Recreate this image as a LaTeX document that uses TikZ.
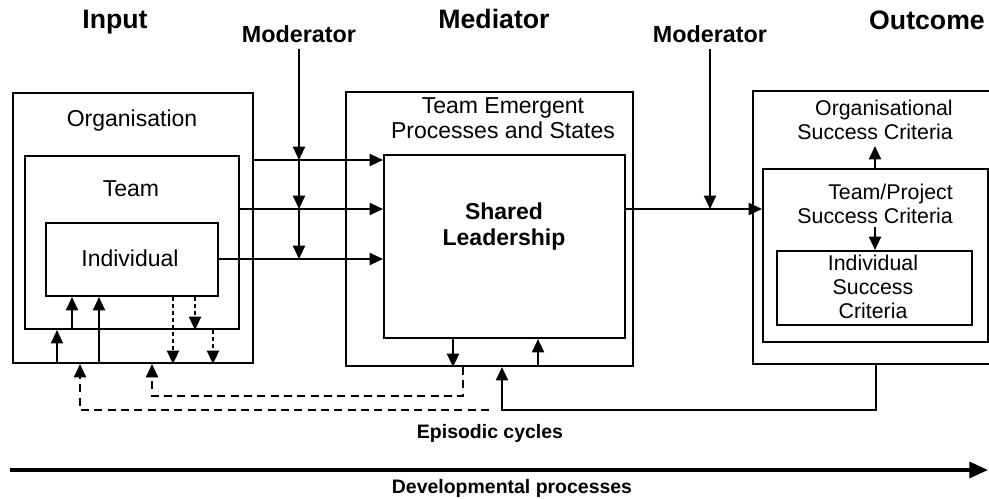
\documentclass[tikz,border=0pt]{standalone}
\usepackage{fontspec}
\setmainfont{Liberation Sans}
\usetikzlibrary{arrows.meta}
\begin{document}
\begin{tikzpicture}[x=0.75pt,y=-0.75pt,
  box/.style={draw,line width=1.5pt,inner sep=0pt,anchor=north west},
  ln/.style={line width=1.5pt},
  arr/.style={ln,-{Triangle[length=10pt,width=9pt]}},
  darr/.style={arr,dash pattern=on 3pt off 2.2pt},
  dl/.style={ln,dash pattern=on 6pt off 4pt,-{Triangle[length=10pt,width=9pt]}},
  head/.style={font=\fontsize{20}{24}\selectfont\bfseries,anchor=base,inner sep=0pt},
  modf/.style={font=\fontsize{17.5}{20}\selectfont\bfseries,anchor=base,inner sep=0pt},
  txt/.style={font=\fontsize{17.25}{18.75}\selectfont,inner sep=0pt},
  otxt/.style={font=\fontsize{16}{18}\selectfont,inner sep=0pt},
  btxt/.style={font=\fontsize{17.25}{19.5}\selectfont\bfseries,inner sep=0pt},
  stxt/.style={font=\fontsize{14.6}{17}\selectfont\bfseries,anchor=base,inner sep=0pt}
]
\useasboundingbox (0,0) rectangle (989,499);

% boxes
\node[box,minimum width=180pt,minimum height=202.5pt] (org) at (12,92) {};
\node[box,minimum width=160.5pt,minimum height=129.75pt] (team) at (24,155) {};
\node[box,minimum width=129pt,minimum height=54.75pt] (ind) at (45,222) {};
\node[box,minimum width=215.25pt,minimum height=205.5pt] (med) at (345,91) {};
\node[box,minimum width=180.75pt,minimum height=137.25pt] (sl) at (383,154) {};
\node[box,minimum width=184pt,minimum height=204.75pt] (out) at (752,90) {};
\node[box,minimum width=168.75pt,minimum height=129.75pt] (tp) at (762,168) {};
\node[box,minimum width=146.25pt,minimum height=55.5pt] (isc) at (776,250) {};

% headings
\node[head] (hin) at (115,29) {Input};
\node[head] (hmed) at (494,29) {Mediator};
\node[head] (hout) at (927,30) {Outcome};
\node[modf] (mod1) at (299,43) {Moderator};
\node[modf] (mod2) at (710,43) {Moderator};

% box texts
\node[txt,anchor=base] (torg) at (132,127) {Organisation};
\node[txt,anchor=base] (tteam) at (131,197) {Team};
\node[txt,anchor=base] (tind) at (130,266) {Individual};
\node[txt,anchor=north,align=center] (tmed) at (503,97.5) {Team Emergent\\Processes and States};
\node[btxt,anchor=north,align=center] (tsl) at (504,203) {Shared\\Leadership};
\node[otxt,anchor=north east,align=right] (tosc) at (953,100) {Organisational\\Success Criteria};
\node[otxt,anchor=north east,align=right] (ttp) at (953,184) {Team/Project\\Success Criteria};
\node[otxt,anchor=north,align=center] (tisc) at (873,255) {Individual\\Success\\Criteria};
\node[stxt] (epi) at (490,438) {Episodic cycles};
\node[stxt] (dev) at (512,493) {Developmental processes};

% input -> mediator
\draw[arr] (org.east |- 0,160) -- (sl.west |- 0,160);
\draw[arr] (team.east |- 0,209) -- (sl.west |- 0,209);
\draw[arr] (ind.east |- 0,259) -- (sl.west |- 0,259);
\draw[arr] ([yshift=-4pt]mod1.south) -- (mod1.south |- 0,160);
\draw[arr] (mod1.south |- 0,160) -- (mod1.south |- 0,209);
\draw[arr] (mod1.south |- 0,209) -- (mod1.south |- 0,259);

% mediator -> outcome
\draw[arr] (sl.east |- 0,209) -- (tp.west |- 0,209);
\draw[arr] ([yshift=-4pt]mod2.south) -- (mod2.south |- 0,209);

% inside input
\draw[arr] (org.south -| 57,0) -- (team.south -| 57,0);
\draw[arr] (team.south -| 72,0) -- (ind.south -| 72,0);
\draw[arr] (org.south -| 99,0) -- (ind.south -| 99,0);
\draw[darr] (ind.south -| 173,0) -- (org.south -| 173,0);
\draw[darr] (ind.south -| 195,0) -- (team.south -| 195,0);
\draw[darr] (team.south -| 213,0) -- (org.south -| 213,0);

% inside mediator
\draw[arr] (sl.south -| 453,0) -- (med.south -| 453,0);
\draw[arr] (med.south -| 538,0) -- (sl.south -| 538,0);

% inside outcome
\coordinate (osctip) at (875,146);
\draw[arr] (tp.north -| 875,0) -- (osctip);
\coordinate (tpfrom) at (875,227);
\draw[arr] (tpfrom) -- (isc.north -| 875,0);

% feedback loops
\draw[arr] (out.south -| 876,0) -- (876,410) -- (502,410) -- (med.south -| 502,0);
\draw[dl] (med.south -| 463,0) -- (463,396) -- (152,396) -- (org.south -| 152,0);
\coordinate (dstart) at (489,410);
\draw[dl] (dstart) -- (80,410) -- (org.south -| 80,0);

% developmental arrow
\coordinate (dv0) at (10,470);
\coordinate (dv1) at (988,470);
\draw[line width=2.4pt,-{Triangle[length=14pt,width=12pt]}] (dv0) -- (dv1);
\end{tikzpicture}
\end{document}
